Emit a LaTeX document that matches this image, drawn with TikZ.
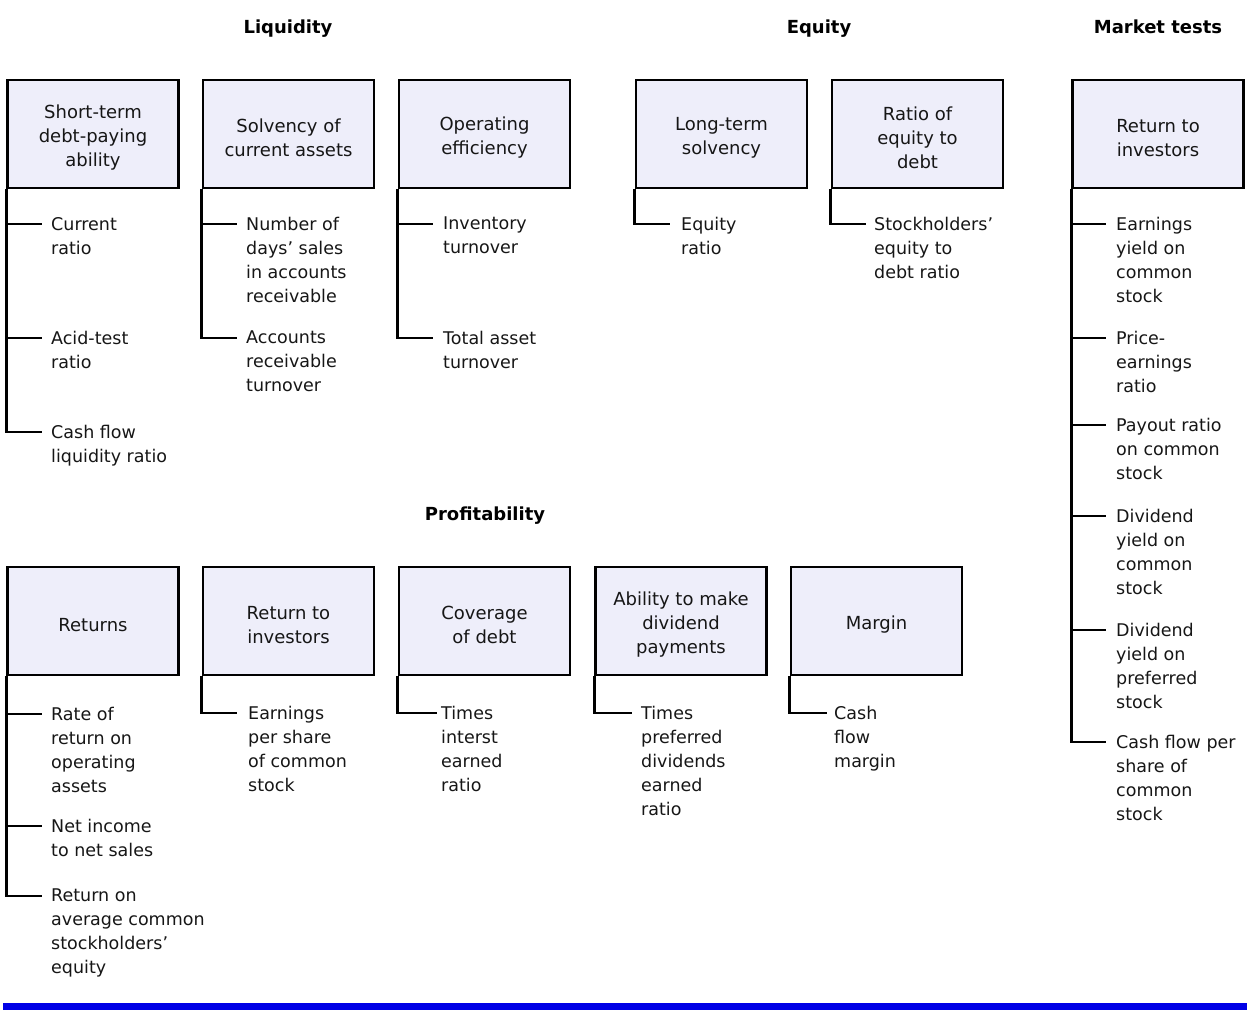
\documentclass[tikz,border=0pt]{standalone}
\usepackage{fontspec}
\setmainfont{DejaVu Sans}
\definecolor{boxfill}{RGB}{238,238,250}
\definecolor{ink}{RGB}{22,22,22}
\definecolor{barblue}{RGB}{0,0,230}
\tikzset{
 catbox/.style={draw=black, line width=2.8pt, fill=boxfill, minimum width=171pt, minimum height=108pt, inner sep=0pt},
 boxlabel/.style={inner sep=0pt, align=center, font=\fontsize{18}{24}\selectfont, text=ink},
 leaf/.style={inner sep=0pt, align=left, font=\fontsize{17.5}{24}\selectfont, text=ink},
 conn/.style={line width=2.8pt, black},
 head/.style={font=\fontsize{18}{22}\selectfont\bfseries, text=black, anchor=base, inner sep=0pt}
}
\newcommand{\catnode}[4]{% name, x, y, text
 \node[catbox] (#1) at (#2,#3) {};
 \node[boxlabel] (#1l) at ([yshift=-4pt]#1.center) {#4};
}
\newcommand{\leafitem}[6]{%
 \coordinate (#1t) at (#3,#5);
 \draw[conn] (#2.south west) |- (#1t);
 \node[leaf, anchor=north west] (#1) at ([yshift=7pt]#4,#5) {#6};
}
\begin{document}
\begin{tikzpicture}[x=1pt,y=-1pt]
\useasboundingbox (0,0) rectangle (1250,1010);
% headers
\node[head] (hL) at (288,33) {Liquidity};
\node[head] (hE) at (819,33) {Equity};
\node[head] (hM) at (1158,33) {Market tests};
\node[head] (hP) at (485,520) {Profitability};
% top boxes
\catnode{T1}{93}{134}{Short-term\\debt-paying\\ability}
\catnode{T2}{288.5}{134}{Solvency of\\current assets}
\catnode{T3}{484.5}{134}{Operating\\efficiency}
\catnode{T4}{721.5}{134}{Long-term\\solvency}
\catnode{T5}{917.5}{134}{Ratio of\\equity to\\debt}
\catnode{T6}{1158}{134}{Return to\\investors}
% bottom boxes
\catnode{B1}{93}{621}{Returns}
\catnode{B2}{288.5}{621}{Return to\\investors}
\catnode{B3}{484.5}{621}{Coverage\\of debt}
\catnode{B4}{681}{621}{Ability to make\\dividend\\payments}
\catnode{B5}{876.5}{621}{Margin}
% top leaves
\leafitem{a3}{T1}{42}{51}{432}{Cash flow\\liquidity ratio}
\leafitem{a2}{T1}{42}{51}{338}{Acid-test\\ratio}
\leafitem{a1}{T1}{42}{51}{224}{Current\\ratio}
\leafitem{b2}{T2}{237}{246}{338}{Accounts\\receivable\\turnover}
\leafitem{b1}{T2}{237}{246}{224}{Number of\\days’ sales\\in accounts\\receivable}
\leafitem{c2}{T3}{433}{443}{338}{Total asset\\turnover}
\leafitem{c1}{T3}{433}{443}{224}{Inventory\\turnover}
\leafitem{d1}{T4}{670}{681}{224}{Equity\\ratio}
\leafitem{e1}{T5}{866}{874}{224}{Stockholders’\\equity to\\debt ratio}
\leafitem{f6}{T6}{1106}{1116}{742}{Cash flow per\\share of\\common\\stock}
\leafitem{f5}{T6}{1106}{1116}{630}{Dividend\\yield on\\preferred\\stock}
\leafitem{f4}{T6}{1106}{1116}{516}{Dividend\\yield on\\common\\stock}
\leafitem{f3}{T6}{1106}{1116}{425}{Payout ratio\\on common\\stock}
\leafitem{f2}{T6}{1106}{1116}{338}{Price-\\earnings\\ratio}
\leafitem{f1}{T6}{1106}{1116}{224}{Earnings\\yield on\\common\\stock}
% bottom leaves
\leafitem{g3}{B1}{42}{51}{896}{Return on\\average common\\stockholders’\\equity}
\leafitem{g2}{B1}{42}{51}{826}{Net income\\to net sales}
\leafitem{g1}{B1}{42}{51}{714}{Rate of\\return on\\operating\\assets}
\leafitem{h1}{B2}{237}{248}{713}{Earnings\\per share\\of common\\stock}
\leafitem{i1}{B3}{437}{441}{713}{Times\\interst\\earned\\ratio}
\leafitem{j1}{B4}{632}{641}{713}{Times\\preferred\\dividends\\earned\\ratio}
\leafitem{k1}{B5}{827}{834}{713}{Cash\\flow\\margin}
% bottom bar
\fill[barblue] (3,1003) rectangle (1247,1010);
\end{tikzpicture}
\end{document}
